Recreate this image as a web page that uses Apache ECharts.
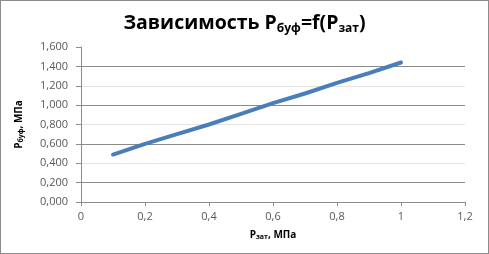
<!DOCTYPE html>
<html><head><meta charset="utf-8">
<script src="https://cdn.jsdelivr.net/npm/echarts@6/dist/echarts.min.js"></script>
<style>html,body{margin:0;padding:0;background:#fff}#c{width:489px;height:254px;box-sizing:border-box}</style>
</head><body><div id="c"></div>
<script>
var pZat = [0.1, 0.2, 0.3, 0.4, 0.5, 0.6, 0.7, 0.8, 0.9, 1.0];
var pBuf = [0.49, 0.60, 0.70, 0.80, 0.91, 1.02, 1.12, 1.23, 1.33, 1.44];
var xTicks = [0, 0.2, 0.4, 0.6, 0.8, 1.0, 1.2];
var yTicks = [0, 0.2, 0.4, 0.6, 0.8, 1.0, 1.2, 1.4, 1.6];

var chart = echarts.init(document.getElementById('c'), null, {renderer: 'canvas'});
var font = 'Open Sans, Liberation Sans, sans-serif';
var data = pZat.map(function (x, i) { return [x, pBuf[i]]; });
chart.setOption({
  animation: false,
  backgroundColor: '#fff',
  title: {
    left: 'center', top: 2,
    text: '{a|Зависимость P}{b|буф}{a|=f(P}{b|зат}{a|)}',
    textStyle: {
      rich: {
        a: {fontFamily: font, fontWeight: 'bold', fontSize: 19.5, color: '#000', lineHeight: 26, verticalAlign: 'bottom'},
        b: {fontFamily: font, fontWeight: 'bold', fontSize: 12, color: '#000', lineHeight: 26, verticalAlign: 'bottom', padding: [0, 0, -2, 0]}
      }
    }
  },
  grid: {left: 81, right: 24, top: 47, bottom: 52, containLabel: false},
  xAxis: {
    type: 'value', min: 0, max: 1.2, interval: 0.2,
    name: '{a|P}{b|зат}{a|, МПа}', nameLocation: 'middle', nameGap: 28,
    nameTextStyle: {rich: {
      a: {fontFamily: font, fontWeight: 'bold', fontSize: 10, color: '#000'},
      b: {fontFamily: font, fontWeight: 'bold', fontSize: 7, color: '#000', verticalAlign: 'bottom'}
    }},
    axisLine: {show: true, lineStyle: {color: '#8c8c8c', width: 1}},
    axisTick: {show: true, length: 4, lineStyle: {color: '#8c8c8c'}},
    axisLabel: {margin: 9, fontFamily: font, fontSize: 11, color: '#595959',
      formatter: function (v) { return String(Math.round(v * 10) / 10).replace('.', ','); }},
    splitLine: {show: false}
  },
  yAxis: {
    type: 'value', min: 0, max: 1.6, interval: 0.2,
    name: '{a|P}{b|буф}{a|, МПа}', nameLocation: 'middle', nameGap: 57, nameRotate: 90,
    nameTextStyle: {rich: {
      a: {fontFamily: font, fontWeight: 'bold', fontSize: 10, color: '#000'},
      b: {fontFamily: font, fontWeight: 'bold', fontSize: 7, color: '#000', verticalAlign: 'bottom'}
    }},
    axisLine: {show: true, lineStyle: {color: '#8c8c8c', width: 1}},
    axisTick: {show: true, length: 5, lineStyle: {color: '#8c8c8c'}},
    axisLabel: {margin: 13, fontFamily: font, fontSize: 11, color: '#595959',
      formatter: function (v) { return v.toFixed(3).replace('.', ','); }},
    splitLine: {show: true, lineStyle: {
      color: ['rgba(0,0,0,0)', '#8a8a8a', '#e4e4e4', '#8a8a8a', '#e4e4e4', '#8a8a8a', '#e4e4e4', '#8a8a8a', 'rgba(0,0,0,0)'],
      width: 1}}
  },
  series: [{
    type: 'line', data: data, showSymbol: false, symbol: 'none',
    lineStyle: {color: '#4a7ebb', width: 4, cap: 'round'}
  }]
});
</script>
<div style="position:absolute;left:0;top:0;width:489px;height:254px;box-sizing:border-box;border:1px solid #8c8c8c;pointer-events:none"></div>
</body></html>
